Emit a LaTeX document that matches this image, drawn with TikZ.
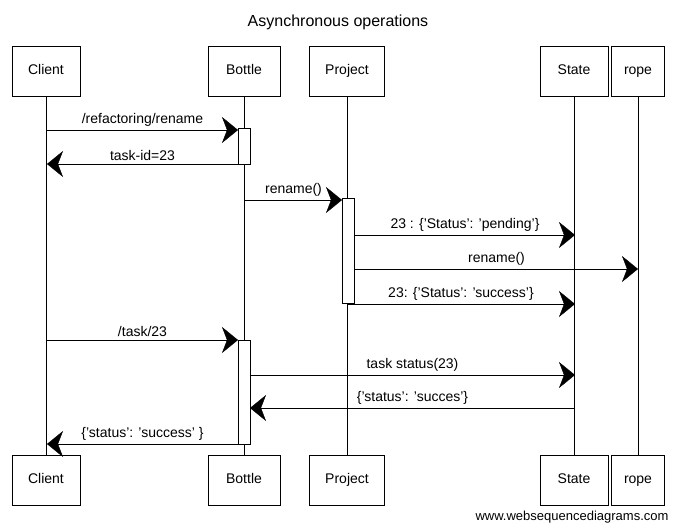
\documentclass[tikz,border=0pt]{standalone}
\usepackage{fontspec}
\setmainfont{Liberation Sans}
\usetikzlibrary{arrows.meta}

\begin{document}
\begin{tikzpicture}[x=1pt,y=-1pt,
  every node/.style={font=\fontsize{14}{16}\selectfont},
  actor/.style={draw,thin,fill=white,minimum height=50pt,inner sep=0pt},
  act/.style={draw,thin,fill=white,minimum width=12pt,inner sep=0pt},
  msg/.style={thin,-{Stealth[length=16pt,width=26pt,inset=5pt]}}]
  \useasboundingbox (0,0) rectangle (676,526);
  \node[font=\fontsize{16}{18}\selectfont] (title) at (338,22) {Asynchronous operations};
  % participants, top and bottom
  \foreach \who/\xc/\boxw in {client/46/68,bottle/244/72,project/347/75,state/574/68,rope/638/53}
  {
    \node[actor,minimum width=\boxw pt] (\who Top) at (\xc,71) {};
    \node[actor,minimum width=\boxw pt] (\who Bot) at (\xc,480) {};
    \draw[thin] (\who Top.south) -- (\who Bot.north);
  }
  \foreach \who/\txt in {client/Client,bottle/Bottle,project/Project,state/State,rope/rope}
  {
    \node[text height=1.6ex,text depth=.4ex] at (\who Top) {\txt};
    \node[text height=1.6ex,text depth=.4ex] at (\who Bot) {\txt};
  }
  % activations
  \node[act,minimum height=36pt] (bottleActA) at (244,146) {};
  \node[act,minimum height=105pt] (projectAct) at (348.5,251) {};
  \node[act,minimum height=104pt] (bottleActB) at (244,392) {};
  % message ends
  \coordinate (m1a) at (47,130);  \coordinate (m1b) at (238,130);
  \coordinate (m2a) at (238,164); \coordinate (m2b) at (47,164);
  \coordinate (m3a) at (245,200); \coordinate (m3b) at (342,200);
  \coordinate (m4a) at (355,235); \coordinate (m4b) at (575,235);
  \coordinate (m5a) at (355,269); \coordinate (m5b) at (638,269);
  \coordinate (m6a) at (347,304); \coordinate (m6b) at (575,304);
  \coordinate (m7a) at (47,340);  \coordinate (m7b) at (238,340);
  \coordinate (m8a) at (250,375); \coordinate (m8b) at (575,375);
  \coordinate (m9a) at (575,408); \coordinate (m9b) at (250,408);
  \coordinate (m10a) at (238,444); \coordinate (m10b) at (47,444);
  \draw[msg] (m1a) -- (m1b) node[midway,above=0pt] {/refactoring/rename};
  \draw[msg] (m2a) -- (m2b) node[midway,above=0pt] {task-id=23};
  \draw[msg] (m3a) -- (m3b) node[midway,above=0pt] {rename()};
  \draw[msg] (m4a) -- (m4b) node[midway,above=0pt] {23 : \{'Status': 'pending'\}};
  \draw[msg] (m5a) -- (m5b) node[midway,above=0pt] {rename()};
  \draw[msg] (m6a) -- (m6b) node[midway,above=0pt] {23: \{'Status': 'success'\}};
  \draw[msg] (m7a) -- (m7b) node[midway,above=0pt] {/task/23};
  \draw[msg] (m8a) -- (m8b) node[midway,above=0pt] {task status(23)};
  \draw[msg] (m9a) -- (m9b) node[midway,above=0pt] {\{'status': 'succes'\}};
  \draw[msg] (m10a) -- (m10b) node[midway,above=0pt] {\{'status': 'success' \}};
  \node[anchor=east,font=\fontsize{13}{15}\selectfont] (footer) at (672,517) {www.websequencediagrams.com};
\end{tikzpicture}
\end{document}
